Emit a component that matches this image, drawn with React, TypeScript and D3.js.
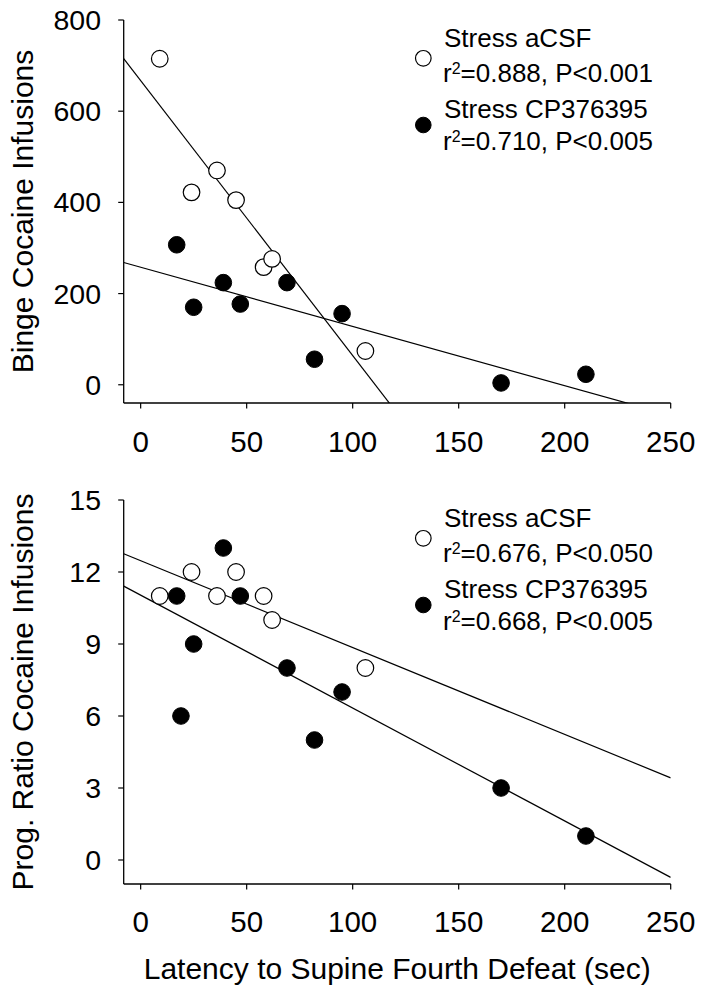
import React from "react";
import * as d3 from "d3";

// ---- Data ----
const xTicks = [0, 50, 100, 150, 200, 250];
const bingeTicks = [0, 200, 400, 600, 800];
const prTicks = [0, 3, 6, 9, 12, 15];

const latencyBingeACSF = [9, 24, 36, 45, 58, 62, 106];
const bingeACSF = [715, 422, 470, 405, 258, 276, 74];
const latencyBingeCP = [17, 25, 39, 47, 69, 82, 95, 170, 210];
const bingeCP = [307, 170, 224, 177, 224, 56, 156, 4, 23];

const latencyPRACSF = [9, 24, 36, 45, 58, 62, 106];
const prACSF = [11, 12, 11, 12, 11, 10, 8];
const latencyPRCP = [17, 19, 25, 39, 47, 69, 82, 95, 170, 210];
const prCP = [11, 6, 9, 13, 11, 8, 5, 7, 3, 1];

const seriesNames = ["Stress aCSF", "Stress CP376395"];
const bingeStats = ["=0.888, P<0.001", "=0.710, P<0.005"];
const prStats = ["=0.676, P<0.050", "=0.668, P<0.005"];

const FONT = "'Liberation Sans', Arial, Helvetica, sans-serif";

function linReg(xs: number[], ys: number[]) {
  const mx = d3.mean(xs) as number;
  const my = d3.mean(ys) as number;
  let sxy = 0;
  let sxx = 0;
  xs.forEach((x, i) => {
    sxy += (x - mx) * (ys[i] - my);
    sxx += (x - mx) * (x - mx);
  });
  const slope = sxy / sxx;
  return { slope, intercept: my - slope * mx };
}

const xScale = d3.scaleLinear().domain([-8, 250]).range([123.7, 670.7]);

type PanelProps = {
  id: string;
  top: number;
  bottom: number;
  yDomain: [number, number];
  yTicks: number[];
  yTitle: string;
  xTickBaseline: number;
  open: [number[], number[]];
  filled: [number[], number[]];
  stats: string[];
};

function Panel(p: PanelProps) {
  const y = d3.scaleLinear().domain(p.yDomain).range([p.bottom, p.top]);
  const [x0, x1] = xScale.range();
  const line = d3
    .line<[number, number]>()
    .x((d) => xScale(d[0]))
    .y((d) => y(d[1]));
  const regLine = (xs: number[], ys: number[]) => {
    const r = linReg(xs, ys);
    const dom = xScale.domain();
    const pts: [number, number][] = [
      [dom[0], r.intercept + r.slope * dom[0]],
      [dom[1], r.intercept + r.slope * dom[1]],
    ];
    return line(pts) as string;
  };
  const R = 8.3;
  const legX = 423.3;
  const textX = 444;
  const t = p.top;
  return (
    <g>
      <defs>
        <clipPath id={p.id}>
          <rect x={x0} y={p.top} width={x1 - x0} height={p.bottom - p.top} />
        </clipPath>
      </defs>
      {/* axes */}
      <line x1={x0} x2={x0} y1={p.top} y2={p.bottom} stroke="#000" strokeWidth={1.3} />
      <line x1={x0} x2={x1} y1={p.bottom} y2={p.bottom} stroke="#000" strokeWidth={1.3} />
      {p.yTicks.map((v) => (
        <g key={"y" + v}>
          <line x1={x0 - 5.5} x2={x0} y1={y(v)} y2={y(v)} stroke="#000" strokeWidth={1.2} />
          <text
            x={101}
            y={y(v) + 10}
            textAnchor="end"
            fontSize={28.5}
            fontFamily={FONT}
          >
            {v}
          </text>
        </g>
      ))}
      {xTicks.map((v) => (
        <g key={"x" + v}>
          <line x1={xScale(v)} x2={xScale(v)} y1={p.bottom} y2={p.bottom + 5.5} stroke="#000" strokeWidth={1.2} />
          <text
            x={xScale(v)}
            y={p.xTickBaseline}
            textAnchor="middle"
            fontSize={29.5}
            fontFamily={FONT}
          >
            {v}
          </text>
        </g>
      ))}
      <text
        transform={`translate(33,${(p.top + p.bottom) / 2}) rotate(-90)`}
        textAnchor="middle"
        fontSize={30}
        fontFamily={FONT}
      >
        {p.yTitle}
      </text>
      {/* regression lines */}
      <g clipPath={`url(#${p.id})`}>
        <path d={regLine(p.open[0], p.open[1])} stroke="#000" strokeWidth={1.2} fill="none" />
        <path d={regLine(p.filled[0], p.filled[1])} stroke="#000" strokeWidth={1.2} fill="none" />
      </g>
      {/* points */}
      {p.filled[0].map((xv, i) => (
        <circle key={"f" + i} cx={xScale(xv)} cy={y(p.filled[1][i])} r={R} fill="#000" stroke="#000" strokeWidth={1} />
      ))}
      {p.open[0].map((xv, i) => (
        <circle key={"o" + i} cx={xScale(xv)} cy={y(p.open[1][i])} r={R} fill="#fff" stroke="#000" strokeWidth={1.2} />
      ))}
      {/* legend */}
      <circle cx={legX} cy={t + 38.3} r={7.8} fill="#fff" stroke="#000" strokeWidth={1.2} />
      <circle cx={legX} cy={t + 105} r={7.8} fill="#000" stroke="#000" strokeWidth={1} />
      <text x={textX} y={t + 26.7} fontSize={26} fontFamily={FONT}>{seriesNames[0]}</text>
      <text x={textX - 1} y={t + 61.7} fontSize={26} fontFamily={FONT}>
        r<tspan fontSize={16} dy={-8}>2</tspan>
        <tspan dy={8}>{p.stats[0]}</tspan>
      </text>
      <text x={textX} y={t + 98.3} fontSize={26} fontFamily={FONT}>{seriesNames[1]}</text>
      <text x={textX - 1} y={t + 130} fontSize={26} fontFamily={FONT}>
        r<tspan fontSize={16} dy={-8}>2</tspan>
        <tspan dy={8}>{p.stats[1]}</tspan>
      </text>
    </g>
  );
}

export default function App() {
  return (
    <svg
      width={704}
      height={996}
      viewBox="0 0 704 996"
      style={{ position: "absolute", left: 0, top: 0, background: "#fff" }}
    >
      <rect x={0} y={0} width={704} height={996} fill="#fff" />
      <Panel
        id="clipTop"
        top={20}
        bottom={403}
        yDomain={[-40, 800]}
        yTicks={bingeTicks}
        yTitle="Binge Cocaine Infusions"
        xTickBaseline={452}
        open={[latencyBingeACSF, bingeACSF]}
        filled={[latencyBingeCP, bingeCP]}
        stats={bingeStats}
      />
      <Panel
        id="clipBottom"
        top={500}
        bottom={884}
        yDomain={[-1, 15]}
        yTicks={prTicks}
        yTitle="Prog. Ratio Cocaine Infusions"
        xTickBaseline={932}
        open={[latencyPRACSF, prACSF]}
        filled={[latencyPRCP, prCP]}
        stats={prStats}
      />
      <text
        x={(xScale.range()[0] + xScale.range()[1]) / 2}
        y={979}
        textAnchor="middle"
        fontSize={30}
        fontFamily={FONT}
      >
        Latency to Supine Fourth Defeat (sec)
      </text>
    </svg>
  );
}
